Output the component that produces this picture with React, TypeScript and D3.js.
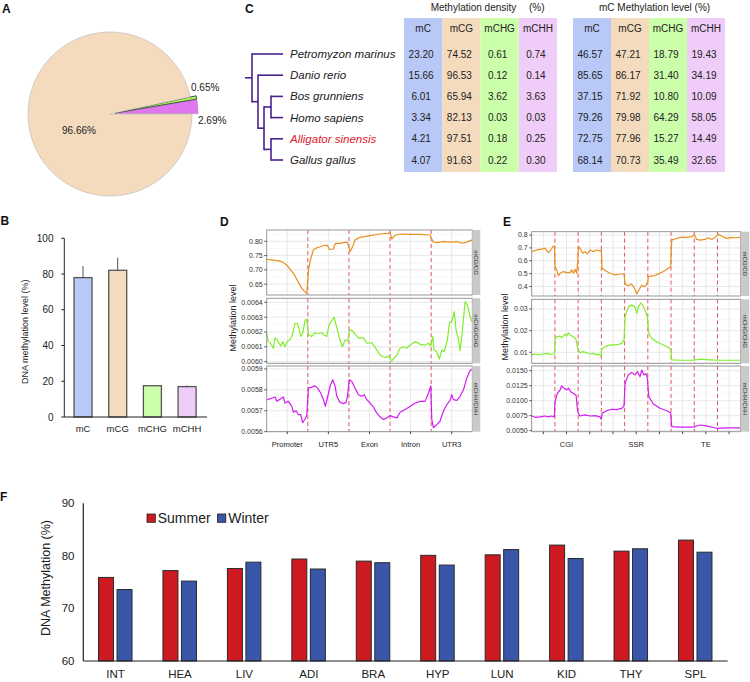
import React from 'react';
import * as d3 from 'd3';

const FONT = '"Liberation Sans", Arial, Helvetica, sans-serif';

// ---------- Panel A ----------
const pieNames = ['mCHH', 'mCHG', 'mCG'];
const pieValues = [2.69, 0.65, 96.66];
const pieColors = ['#df77ef', '#a8f55a', '#f5dbbe'];

// ---------- Panel B ----------
const contexts = ['mC', 'mCG', 'mCHG', 'mCHH'];
const levelMeans = [78.0, 82.1, 17.5, 17.0];
const levelErrs = [6.5, 7.1, 0.1, 0.7];
const contextColors = ['#b8c9f8', '#f5dbbe', '#ccffaa', '#f0ccf8'];
const bTicks = [0, 20, 40, 60, 80, 100];

// ---------- Panel C ----------
const species = ['Petromyzon marinus', 'Danio rerio', 'Bos grunniens', 'Homo sapiens', 'Alligator sinensis', 'Gallus gallus'];
const highlightSpecies = 'Alligator sinensis';
const treeData = {
  children: [
    { name: 'Petromyzon marinus' },
    {
      children: [
        { name: 'Danio rerio' },
        {
          children: [
            { children: [{ name: 'Bos grunniens' }, { name: 'Homo sapiens' }] },
            { children: [{ name: 'Alligator sinensis' }, { name: 'Gallus gallus' }] },
          ],
        },
      ],
    },
  ],
};
const densMC = [23.2, 15.66, 6.01, 3.34, 4.21, 4.07];
const densMCG = [74.52, 96.53, 65.94, 82.13, 97.51, 91.63];
const densMCHG = [0.61, 0.12, 3.62, 0.03, 0.18, 0.22];
const densMCHH = [0.74, 0.14, 3.63, 0.03, 0.25, 0.3];
const levMC = [46.57, 85.65, 37.15, 79.26, 72.75, 68.14];
const levMCG = [47.21, 86.17, 71.92, 79.98, 77.96, 70.73];
const levMCHG = [18.79, 31.4, 10.8, 64.29, 15.27, 35.49];
const levMCHH = [19.43, 34.19, 10.09, 58.05, 14.49, 32.65];

// ---------- Panel D (bins: 20 per region) ----------
const dRegions = ['Promoter', 'UTR5', 'Exon', 'Intron', 'UTR3'];
const dMCG: [number, number][] = [[0,0.737],[5,0.732],[7.3,0.729],[9.7,0.717],[13,0.688],[15,0.662],[17,0.636],[18.7,0.622],[19.5,0.618],[20.3,0.700],[21.1,0.730],[22.7,0.770],[24,0.776],[26,0.781],[28.4,0.786],[29.5,0.786],[30.5,0.772],[32.4,0.773],[33.4,0.793],[35.7,0.793],[38.1,0.796],[39.3,0.796],[40.6,0.764],[41.8,0.781],[43,0.805],[45.4,0.814],[50.3,0.8195],[55.1,0.8255],[59.2,0.828],[60,0.832],[60.8,0.808],[62.4,0.821],[64.9,0.8255],[69.7,0.824],[74.6,0.824],[79.5,0.822],[80.8,0.799],[82.7,0.795],[86,0.799],[89.2,0.797],[92.5,0.799],[94.9,0.793],[97.3,0.797],[100,0.805]];
const dMCHG: [number, number][] = [[0,0.00619],[0.8,0.006135],[1.9,0.006124],[3.2,0.00609],[4.1,0.00616],[4.9,0.00615],[6,0.006124],[6.8,0.006106],[7.8,0.006135],[8.9,0.0061],[10,0.006135],[11.4,0.00615],[12.7,0.00619],[13.8,0.006259],[14.9,0.006259],[15.9,0.006213],[16.5,0.00617],[17.5,0.00619],[18.7,0.00628],[19.5,0.006285],[20.3,0.00618],[21.9,0.00617],[23.5,0.006195],[25.1,0.00619],[26.8,0.006195],[27.9,0.00618],[29.2,0.00617],[30.3,0.006247],[31.6,0.006276],[32.8,0.0063],[34.4,0.006213],[35.7,0.006146],[36.8,0.0061],[38.1,0.006146],[39.4,0.00614],[40.2,0.006213],[41.4,0.006213],[43,0.006186],[44.6,0.00616],[47,0.00616],[48.7,0.006124],[51.1,0.006128],[53.5,0.006079],[55.1,0.006045],[57.6,0.006027],[59.2,0.006038],[60.8,0.006005],[63.3,0.006045],[64.9,0.00609],[66.5,0.0061],[68.1,0.00609],[69.7,0.006112],[72.2,0.006135],[74.6,0.006117],[77,0.006112],[78.7,0.006124],[79.8,0.006106],[80.8,0.00617],[81.4,0.006079],[82.7,0.006067],[84,0.006018],[85.2,0.006079],[86.3,0.006067],[87.9,0.006146],[88.9,0.006263],[90,0.00627],[91.2,0.006337],[92.1,0.006213],[93.3,0.006146],[94.1,0.006075],[94.9,0.00617],[96.5,0.006404],[97.6,0.006382],[98.9,0.006307],[99.7,0.00627]];
const dMCHH: [number, number][] = [[0.3,0.005753],[2.4,0.00576],[4.1,0.005766],[4.9,0.005745],[6.5,0.005755],[8.1,0.005766],[8.9,0.005737],[10.5,0.005745],[12.2,0.005721],[13,0.005693],[14.3,0.0057],[15.4,0.005682],[16.5,0.005682],[17.5,0.005643],[18.7,0.005662],[19.5,0.005677],[20.3,0.005808],[21.9,0.005813],[23.5,0.005819],[24.7,0.005808],[26.3,0.005785],[27.6,0.005753],[28.5,0.005721],[29.5,0.005761],[30.8,0.005816],[32.1,0.005848],[33.3,0.005816],[34.1,0.005769],[35.7,0.00574],[37.3,0.005734],[38.6,0.00574],[39.3,0.005769],[40.2,0.005848],[41.4,0.00584],[43,0.005808],[44.6,0.005777],[46.2,0.005769],[47.4,0.005777],[48.7,0.005753],[50.3,0.005737],[51.9,0.005718],[53.5,0.00569],[55.1,0.005671],[56.8,0.005658],[58.4,0.005666],[60,0.005677],[61.6,0.005671],[63.3,0.005666],[64.9,0.005693],[67.3,0.005706],[69.7,0.005721],[72.2,0.005737],[74.6,0.005745],[77,0.005745],[78.7,0.005785],[79.8,0.005819],[80.3,0.005658],[81.1,0.005619],[82.7,0.005634],[84.3,0.00565],[86,0.0057],[87.6,0.005729],[89.2,0.00575],[90,0.005777],[90.8,0.005753],[92.5,0.00575],[94.1,0.005769],[95.7,0.0058],[97.3,0.005856],[98.9,0.005892],[100,0.005899]];

// ---------- Panel E (bins: 20 per region, 9 regions) ----------
const eGroups = ['CGI', 'SSR', 'TE'];
const eMCG: [number, number][] = [[0,0.671],[4.3,0.684],[8.6,0.69],[11.5,0.697],[12.9,0.679],[14.4,0.663],[16.4,0.684],[18.7,0.715],[19.5,0.715],[20.1,0.554],[21.5,0.529],[23,0.482],[24.4,0.503],[27.3,0.516],[30.1,0.508],[33,0.508],[34.4,0.529],[35.9,0.503],[37.3,0.534],[38.8,0.503],[39.6,0.593],[40.2,0.71],[41.6,0.697],[43.9,0.658],[45.9,0.671],[47.9,0.653],[50.2,0.684],[53.1,0.671],[56,0.684],[58.8,0.676],[60,0.684],[60.6,0.542],[63.2,0.524],[67.5,0.503],[71.8,0.49],[76.1,0.497],[79.5,0.497],[80.4,0.42],[83.2,0.405],[85.5,0.42],[87.6,0.4],[89,0.374],[90.4,0.343],[92.7,0.379],[94.7,0.41],[96.7,0.398],[98.5,0.41],[99.9,0.438],[100.5,0.477],[103.3,0.482],[106.2,0.485],[109.1,0.498],[113.4,0.516],[117.7,0.542],[119.7,0.554],[120.6,0.761],[123.4,0.769],[127.7,0.782],[133.5,0.782],[137.8,0.787],[140.1,0.805],[142.1,0.766],[145,0.761],[149.3,0.766],[152.1,0.779],[155,0.766],[157.9,0.782],[160.8,0.805],[163.6,0.792],[167.9,0.774],[172.2,0.782],[175.1,0.779],[179.4,0.782]];
const eMCHG: [number, number][] = [[0,0.0088],[2.9,0.0092],[5.7,0.0088],[10,0.0092],[12.9,0.0095],[15.8,0.009],[19.5,0.0092],[20.1,0.0157],[21.5,0.0172],[24.4,0.0175],[25.8,0.0167],[28.7,0.0184],[30.1,0.0175],[31.6,0.019],[33,0.018],[35.9,0.0172],[38.2,0.016],[39.6,0.0118],[41.6,0.0098],[44.5,0.0103],[47.4,0.0098],[50.2,0.0092],[53.1,0.0095],[56,0.0088],[57.4,0.0092],[59.7,0.0083],[60.3,0.0114],[63.2,0.0126],[67.5,0.0134],[73.2,0.0134],[77.5,0.0141],[79.5,0.0157],[80.4,0.0264],[83.2,0.031],[86.1,0.0318],[89,0.031],[90.4,0.028],[91.9,0.031],[93.9,0.0329],[95.6,0.0318],[97.6,0.0295],[99.6,0.0264],[100.8,0.0187],[103.3,0.0165],[107.6,0.0149],[113.4,0.0134],[117.7,0.0123],[120,0.0111],[120.6,0.0065],[127.7,0.0063],[139.2,0.0064],[145,0.0068],[153.6,0.0065],[162.2,0.0063],[179.4,0.0063]];
const eMCHH: [number, number][] = [[0,0.00745],[2.9,0.00723],[7.2,0.0073],[11.5,0.00745],[14.4,0.0073],[17.2,0.00745],[19.5,0.0073],[20.1,0.00983],[22.1,0.01123],[24.4,0.01178],[25.8,0.01245],[27.8,0.0121],[30.1,0.0118],[31.6,0.0121],[33.6,0.0115],[35.9,0.0112],[38.2,0.0109],[39.6,0.00817],[41.6,0.00745],[45.9,0.00762],[50.2,0.00745],[54.5,0.0075],[58.8,0.0073],[60,0.0069],[60.6,0.0079],[64.6,0.00833],[68.9,0.00857],[73.2,0.0085],[77.5,0.00873],[79.5,0.00912],[80.4,0.0129],[83.2,0.0143],[86.1,0.0147],[89,0.0143],[91,0.01483],[93.3,0.014],[94.7,0.0151],[96.7,0.0143],[98.5,0.0145],[99.6,0.01373],[100.8,0.01067],[104.8,0.00945],[110.5,0.00873],[116.3,0.00833],[119.7,0.008],[120.6,0.00567],[127.7,0.0056],[139.2,0.0056],[145,0.00595],[150.7,0.0058],[159.3,0.0054],[167.9,0.00548],[179.4,0.00548]];

// ---------- Panel F ----------
const organs = ['INT', 'HEA', 'LIV', 'ADI', 'BRA', 'HYP', 'LUN', 'KID', 'THY', 'SPL'];
const seasons = ['Summer', 'Winter'];
const summerVals = [75.9, 77.2, 77.6, 79.4, 79.0, 80.1, 80.2, 82.05, 80.9, 83.0];
const winterVals = [73.6, 75.2, 78.8, 77.5, 78.7, 78.25, 81.2, 79.5, 81.35, 80.7];
const seasonColors = ['#cc1a20', '#3a56a9'];
const fTicks = [60, 70, 80, 90];

const lineColors = { CG: '#e8901e', CHG: '#80ee2a', CHH: '#d21cf0' };

function Letter({ x, y, t }: { x: number; y: number; t: string }) {
  return (
    <text x={x} y={y} fontSize={12} fontWeight="bold" fill="#111">{t}</text>
  );
}

function PanelA() {
  const cx = 110, cy = 114, r = 82;
  const arcs = d3.pie<number>().sort(null).startAngle(Math.PI / 2).endAngle(Math.PI / 2 - 2 * Math.PI)(pieValues);
  const arc = d3.arc<d3.PieArcDatum<number>>().innerRadius(0);
  return (
    <g>
      {arcs.map((a, i) => {
        const small = i < 2;
        const mid = (a.startAngle + a.endAngle) / 2;
        const off = small ? 5 : 0;
        const rr = small ? 83 : r;
        return (
          <path key={i}
            transform={`translate(${cx + off * Math.sin(mid)},${cy - off * Math.cos(mid)})`}
            d={arc.outerRadius(rr)(a) || ''}
            fill={pieColors[i]}
            stroke={i === 1 ? '#2a2a2a' : i === 0 ? '#b070c0' : '#b5b5b5'}
            strokeWidth={i === 1 ? 0.8 : 0.6} />
        );
      })}
      <text x={191} y={90.5} fontSize={10} fill="#222">{pieValues[1].toFixed(2)}%</text>
      <text x={198} y={124} fontSize={10} fill="#222">{pieValues[0].toFixed(2)}%</text>
      <text x={79} y={134} fontSize={10} fill="#222" textAnchor="middle">{pieValues[2].toFixed(2)}%</text>
    </g>
  );
}

function PanelB() {
  const x = d3.scaleBand<string>().domain(contexts).range([65.7, 204.4]).paddingInner(0.481).paddingOuter(0.24);
  const y = d3.scaleLinear().domain([0, 100]).range([417, 238.3]);
  const x0 = 64.3;
  return (
    <g>
      {contexts.map((c, i) => (
        <g key={c}>
          <rect x={x(c)} y={y(levelMeans[i])} width={x.bandwidth()} height={y(0) - y(levelMeans[i])}
            fill={contextColors[i]} stroke="#555" strokeWidth={1.3} />
          <line x1={(x(c) || 0) + x.bandwidth() / 2} x2={(x(c) || 0) + x.bandwidth() / 2}
            y1={y(levelMeans[i])} y2={y(levelMeans[i] + levelErrs[i])} stroke="#555" strokeWidth={1} />
          <text x={(x(c) || 0) + x.bandwidth() / 2} y={431.5} fontSize={9.5} textAnchor="middle" fill="#222">{c}</text>
        </g>
      ))}
      <line x1={x0} x2={x0} y1={y(100)} y2={y(0)} stroke="#222" strokeWidth={1} />
      <line x1={x0} x2={207} y1={y(0)} y2={y(0)} stroke="#222" strokeWidth={1} />
      {bTicks.map(t => (
        <g key={t}>
          <line x1={x0 - 3} x2={x0} y1={y(t)} y2={y(t)} stroke="#222" />
          <text x={53.5} y={y(t)} dy="0.35em" fontSize={10} textAnchor="end" fill="#222">{t}</text>
        </g>
      ))}
      <text transform={`translate(27.7,331.7) rotate(-90)`} fontSize={9} textAnchor="middle" fill="#222">DNA methylation level (%)</text>
    </g>
  );
}

function PanelC() {
  const rowY = d3.scalePoint<string>().domain(species).range([54, 160]);
  const root = d3.hierarchy<any>(treeData);
  const xByHeight = [283, 271, 264, 258, 252];
  root.eachAfter((n: any) => {
    if (!n.children) n.py = rowY(n.data.name);
    else n.py = (n.children[0].py + n.children[n.children.length - 1].py) / 2;
    n.px = xByHeight[n.height];
  });
  const nodes = root.descendants() as any[];
  const treeColor = '#4b2190';
  const fmt = d3.format('.2f');
  const tables = [
    { x0: 404, w: 38.25, cols: [densMC, densMCG, densMCHG, densMCHH] },
    { x0: 573, w: 38, cols: [levMC, levMCG, levMCHG, levMCHH] },
  ];
  return (
    <g>
      <line x1={245} x2={(root as any).px} y1={(root as any).py} y2={(root as any).py} stroke={treeColor} strokeWidth={1.6} />
      {nodes.map((n, i) => (
        <g key={i}>
          {n.children && (
            <line x1={n.px} x2={n.px} y1={n.children[0].py} y2={n.children[n.children.length - 1].py}
              stroke={treeColor} strokeWidth={1.6} strokeLinecap="square" />
          )}
          {n.parent && (
            <line x1={n.parent.px} x2={n.px} y1={n.py} y2={n.py} stroke={treeColor} strokeWidth={1.6} />
          )}
        </g>
      ))}
      {species.map(s => (
        <text key={s} x={290} y={rowY(s)} dy="0.35em" fontSize={11.5} fontStyle="italic"
          fill={s === highlightSpecies ? '#e0202a' : '#1a1a1a'}>{s}</text>
      ))}
      {tables.map((t, ti) => (
        <g key={ti}>
          {t.cols.map((col, ci) => (
            <g key={ci}>
              <rect x={t.x0 + ci * t.w} y={18} width={t.w} height={154} fill={contextColors[ci]} />
              <text x={t.x0 + ci * t.w + t.w / 2} y={28} dy="0.35em" fontSize={10} textAnchor="middle" fill="#222">{contexts[ci]}</text>
              {col.map((v, ri) => (
                <text key={ri} x={t.x0 + ci * t.w + t.w / 2 - 2} y={rowY(species[ri])} dy="0.35em" fontSize={10}
                  textAnchor="middle" fill="#222">{fmt(v)}</text>
              ))}
            </g>
          ))}
        </g>
      ))}
      <text x={430.7} y={10.5} fontSize={10} fill="#222">Methylation density</text>
      <text x={529} y={10.5} fontSize={10} fill="#222">(%)</text>
      <text x={599} y={10.5} fontSize={10} fill="#222">mC Methylation level (%)</text>
    </g>
  );
}

type Facet = { top: number; bottom: number; domain: [number, number]; ticks: number[]; fmt: string; data: [number, number][]; color: string; strip: string };

function Metaplot({ x0, x1, nRegions, facets, labels, ylabX, ylabY, stripW }:
  { x0: number; x1: number; nRegions: number; facets: Facet[]; labels: { idx: number; text: string }[]; ylabX: number; ylabY: number; stripW: number }) {
  const bpr = 20;
  const x = d3.scaleLinear().domain([0, nRegions * bpr]).range([x0, x1]);
  const centers = d3.range(nRegions).map(i => (i + 0.5) * bpr);
  const bounds = d3.range(1, nRegions).map(i => i * bpr);
  const bottom = facets[facets.length - 1].bottom;
  return (
    <g>
      {facets.map((f, fi) => {
        const y = d3.scaleLinear().domain(f.domain).range([f.bottom, f.top]);
        const step = f.ticks[1] - f.ticks[0];
        const minor = [f.ticks[0] - step / 2, ...f.ticks.map(t => t + step / 2)].filter(v => v >= f.domain[0] && v <= f.domain[1]);
        const line = d3.line<[number, number]>().x(d => x(d[0])).y(d => y(d[1]));
        const tf = d3.format(f.fmt);
        return (
          <g key={fi}>
            <rect x={x0} y={f.top} width={x1 - x0} height={f.bottom - f.top} fill="#fff" />
            {minor.map((v, i) => <line key={'m' + i} x1={x0} x2={x1} y1={y(v)} y2={y(v)} stroke="#f2f2f2" strokeWidth={0.6} />)}
            {f.ticks.map((v, i) => <line key={'M' + i} x1={x0} x2={x1} y1={y(v)} y2={y(v)} stroke="#e4e4e4" strokeWidth={0.9} />)}
            {bounds.map((b, i) => <line key={'vb' + i} x1={x(b)} x2={x(b)} y1={f.top} y2={f.bottom} stroke="#f2f2f2" strokeWidth={0.6} />)}
            {centers.map((c, i) => <line key={'vc' + i} x1={x(c)} x2={x(c)} y1={f.top} y2={f.bottom} stroke="#e4e4e4" strokeWidth={0.9} />)}
            {bounds.map((b, i) => <line key={'rd' + i} x1={x(b)} x2={x(b)} y1={f.top} y2={f.bottom} stroke="#e5393f" strokeOpacity={0.85} strokeWidth={1} strokeDasharray="4,3" />)}
            <path d={line(f.data) || ''} fill="none" stroke={f.color} strokeWidth={1.2} strokeLinejoin="round" />
            <rect x={x0} y={f.top} width={x1 - x0} height={f.bottom - f.top} fill="none" stroke="#8c8c8c" strokeWidth={0.9} />
            <rect x={x1} y={f.top} width={stripW} height={f.bottom - f.top} fill="#c9c9c9" />
            <text transform={`translate(${x1 + stripW / 2},${(f.top + f.bottom) / 2}) rotate(90)`} dy="0.35em"
              fontSize={6} textAnchor="middle" fill="#333">{f.strip}</text>
            {f.ticks.map((v, i) => (
              <g key={'t' + i}>
                <line x1={x0 - 2.5} x2={x0} y1={y(v)} y2={y(v)} stroke="#333" strokeWidth={0.8} />
                <text x={x0 - 4} y={y(v)} dy="0.35em" fontSize={7} textAnchor="end" fill="#333">{tf(v)}</text>
              </g>
            ))}
          </g>
        );
      })}
      {centers.map((c, i) => <line key={'xt' + i} x1={x(c)} x2={x(c)} y1={bottom} y2={bottom + 2.5} stroke="#333" strokeWidth={0.9} />)}
      {labels.map(l => (
        <text key={l.text} x={x(centers[l.idx])} y={446.5} fontSize={7.5} textAnchor="middle" fill="#222">{l.text}</text>
      ))}
      <text transform={`translate(${ylabX},${ylabY}) rotate(-90)`} fontSize={9} textAnchor="middle" fill="#222">Methylation level</text>
    </g>
  );
}

function PanelF() {
  const x = d3.scaleBand<string>().domain(organs).range([83.3, 727.7]);
  const x1 = d3.scaleBand<string>().domain(seasons).range([-17, 16.5]).paddingInner(0.19);
  const y = d3.scaleLinear().domain([60, 90]).range([661, 503.3]);
  const vals = [summerVals, winterVals];
  return (
    <g>
      {organs.map((o, i) => {
        const c = (x(o) || 0) + x.bandwidth() / 2;
        return (
          <g key={o}>
            {seasons.map((s, si) => (
              <rect key={s} x={c + (x1(s) || 0)} y={y(vals[si][i])} width={x1.bandwidth()} height={y(60) - y(vals[si][i])}
                fill={seasonColors[si]} stroke="#2a2a2a" strokeWidth={1} />
            ))}
            <text x={c} y={678} fontSize={11.5} textAnchor="middle" fill="#222">{o}</text>
          </g>
        );
      })}
      <line x1={83.3} x2={83.3} y1={y(90)} y2={y(60)} stroke="#222" strokeWidth={1.2} />
      <line x1={83.3} x2={727.7} y1={y(60)} y2={y(60)} stroke="#222" strokeWidth={1.2} />
      {fTicks.map(t => (
        <text key={t} x={74.5} y={y(t)} dy="0.35em" fontSize={11.5} textAnchor="end" fill="#222">{t}</text>
      ))}
      <text transform="translate(50,578) rotate(-90)" fontSize={12.5} textAnchor="middle" fill="#222">DNA Methylation (%)</text>
      {seasons.map((s, si) => (
        <g key={s} transform={`translate(${147 + si * 70.5},514)`}>
          <rect x={0} y={0} width={8.3} height={8.3} fill={seasonColors[si]} stroke="#222" strokeWidth={0.8} />
          <text x={10.7} y={8.5} fontSize={14} fill="#222">{s}</text>
        </g>
      ))}
    </g>
  );
}

export default function App() {
  const dFacets: Facet[] = [
    { top: 230, bottom: 295, domain: [0.612, 0.8395], ticks: [0.65, 0.7, 0.75, 0.8], fmt: '.2f', data: dMCG, color: lineColors.CG, strip: 'mCG/CG' },
    { top: 298.3, bottom: 363.3, domain: [0.005989, 0.006427], ticks: [0.006, 0.0061, 0.0062, 0.0063, 0.0064], fmt: '.4f', data: dMCHG, color: lineColors.CHG, strip: 'mCHG/CHG' },
    { top: 366, bottom: 431.7, domain: [0.0056, 0.005914], ticks: [0.0056, 0.0057, 0.0058, 0.0059], fmt: '.4f', data: dMCHH, color: lineColors.CHH, strip: 'mCHH/CHH' },
  ];
  const eFacets: Facet[] = [
    { top: 231.7, bottom: 296, domain: [0.326, 0.826], ticks: [0.4, 0.5, 0.6, 0.7, 0.8], fmt: '.1f', data: eMCG, color: lineColors.CG, strip: 'mCG/CG' },
    { top: 299.3, bottom: 363.3, domain: [0.0049, 0.0345], ticks: [0.01, 0.02, 0.03], fmt: '.2f', data: eMCHG, color: lineColors.CHG, strip: 'mCHG/CHG' },
    { top: 366, bottom: 431.7, domain: [0.00483, 0.01578], ticks: [0.005, 0.0075, 0.01, 0.0125, 0.015], fmt: '.4f', data: eMCHH, color: lineColors.CHH, strip: 'mCHH/CHH' },
  ];
  return (
    <svg width={750} height={682} style={{ position: 'absolute', left: 0, top: 0, background: '#fff' }}
      fontFamily={FONT}>
      <rect width={750} height={682} fill="#fff" />
      <PanelA />
      <PanelB />
      <PanelC />
      <Metaplot x0={266.7} x1={472.3} nRegions={5} facets={dFacets}
        labels={dRegions.map((t, i) => ({ idx: i, text: t }))} ylabX={235.5} ylabY={318} stripW={8} />
      <Metaplot x0={531.7} x1={740.7} nRegions={9} facets={eFacets}
        labels={eGroups.map((t, i) => ({ idx: i * 3 + 1, text: t }))} ylabX={508} ylabY={327} stripW={8.6} />
      <PanelF />
      <Letter x={2} y={12.5} t="A" />
      <Letter x={0.5} y={225} t="B" />
      <Letter x={245} y={12.5} t="C" />
      <Letter x={220} y={226} t="D" />
      <Letter x={503} y={226} t="E" />
      <Letter x={0} y={500.5} t="F" />
    </svg>
  );
}
